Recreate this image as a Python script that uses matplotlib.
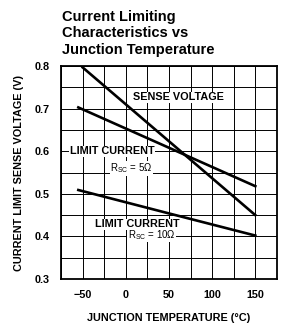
import matplotlib
matplotlib.use("Agg")
import matplotlib.pyplot as plt
import numpy as np

# current limiting vs junction temperature

temp_sense = [-50, 150]
sense_voltage = [0.797, 0.45]

temp_5 = [-55, 150]
limit_5ohm = [0.703, 0.518]

temp_10 = [-55, 50, 150]
limit_10ohm = [0.509, 0.454, 0.402]

xticks = [-50, 0, 50, 100, 150]
yticks = [0.3, 0.4, 0.5, 0.6, 0.7, 0.8]

plt.rcParams['font.family'] = ['Liberation Sans', 'DejaVu Sans']

fig = plt.figure(figsize=(2.84, 3.29), dpi=100)
ax = fig.add_axes([0.215, 0.152, 0.76, 0.647])

ax.plot(temp_sense, sense_voltage, "k-", lw=1.9, zorder=3)
ax.plot(temp_5, limit_5ohm, "k-", lw=1.9, zorder=3)
ax.plot(temp_10, limit_10ohm, "k-", lw=1.9, zorder=3)

ax.set_xlim(-75, 175)
ax.set_ylim(0.3, 0.8)
ax.set_xticks(xticks)
ax.set_xticklabels(["\u221250", "0", "50", "100", "150"])
ax.set_yticks(yticks)
ax.set_yticklabels(["%.1f" % v for v in yticks])
ax.set_xticks(np.arange(-75, 176, 25), minor=True)
ax.set_yticks(np.arange(0.3, 0.81, 0.05), minor=True)
ax.grid(True, which="both", color="k", lw=0.7)
ax.tick_params(which="both", length=0, labelsize=7.8, pad=8)
for lab in ax.get_xticklabels() + ax.get_yticklabels():
    lab.set_fontweight("bold")
for s in ax.spines.values():
    s.set_linewidth(1.3)

box = dict(facecolor="white", edgecolor="none", pad=0.3)
ax.text(8, 0.727, "SENSE VOLTAGE", fontsize=7.8, fontweight="bold", va="center", bbox=box, zorder=4)
ax.text(-65, 0.6, "LIMIT CURRENT", fontsize=7.8, fontweight="bold", va="center", bbox=box, zorder=4)
ax.text(-18, 0.56, "R$_{\\mathregular{SC}}$ = 5\u03a9", fontsize=7, va="center", bbox=box, zorder=4)
ax.text(-36, 0.428, "LIMIT CURRENT", fontsize=7.8, fontweight="bold", va="center", bbox=box, zorder=4)
ax.text(2, 0.404, "R$_{\\mathregular{SC}}$ = 10\u03a9", fontsize=7, va="center", bbox=box, zorder=5)

ax.set_xlabel("JUNCTION TEMPERATURE (\u00b0C)", fontsize=7.8, fontweight="bold", labelpad=9)
ax.set_ylabel("CURRENT LIMIT SENSE VOLTAGE (V)", fontsize=7.8, fontweight="bold", labelpad=8)

fig.text(0.218, 0.828, "Current Limiting\nCharacteristics vs\nJunction Temperature",
         fontsize=10.5, fontweight="bold", ha="left", va="bottom", linespacing=1.2)

fig.savefig("out.png", dpi=100)
